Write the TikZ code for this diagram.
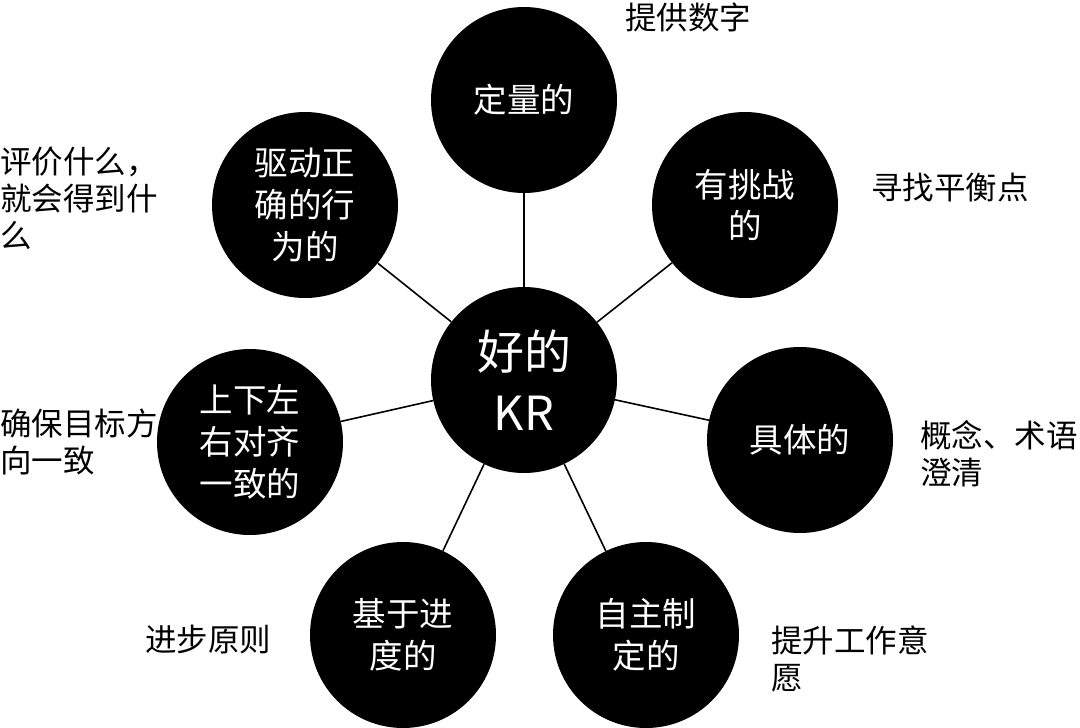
\documentclass[tikz,border=0pt]{standalone}
\usepackage{fontspec}
\setmainfont{Noto Sans CJK SC}
\begin{document}
\begin{tikzpicture}[x=1pt,y=-1pt,
  bubble/.style={circle,fill=black,text=white,minimum size=186pt,inner sep=0pt,align=center,font=\fontsize{33.5}{42}\selectfont},
  hub/.style={bubble,minimum size=186pt,font=\fontsize{47}{61}\selectfont},
  note/.style={inner sep=0pt,align=left,text=black,font=\fontsize{31.5}{37}\selectfont},
  spoke/.style={draw=black,line width=1.6pt}]
\useasboundingbox (0,0) rectangle (1080,728);
\node[hub] (c) at (524,380) {好的\\KR};
\node[bubble] (b1) at (524,100) {定量的};
\node[bubble] (b2) at (745,205) {有挑战\\的};
\node[bubble] (b3) at (800,440) {具体的};
\node[bubble] (b4) at (646,635) {自主制\\定的};
\node[bubble] (b5) at (403,635) {基于进\\度的};
\node[bubble] (b6) at (250,442) {上下左\\右对齐\\一致的};
\node[bubble] (b7) at (305,205) {驱动正\\确的行\\为的};
\foreach \i in {1,...,7} \draw[spoke] (c) -- (b\i);
\node[note] (n1) at (688,17) {提供数字};
\node[note,anchor=west] (n2) at (871,188) {寻找平衡点};
\node[note,anchor=west] (n3) at (920,454) {概念、术语\\澄清};
\node[note,anchor=west] (n4) at (771,659) {提升工作意\\愿};
\node[note,anchor=west] (n5) at (145,640) {进步原则};
\node[note,anchor=west] (n6) at (0,442) {确保目标方\\向一致};
\node[note,anchor=west] (n7) at (0,198) {评价什么，\\就会得到什\\么};
\end{tikzpicture}
\end{document}
